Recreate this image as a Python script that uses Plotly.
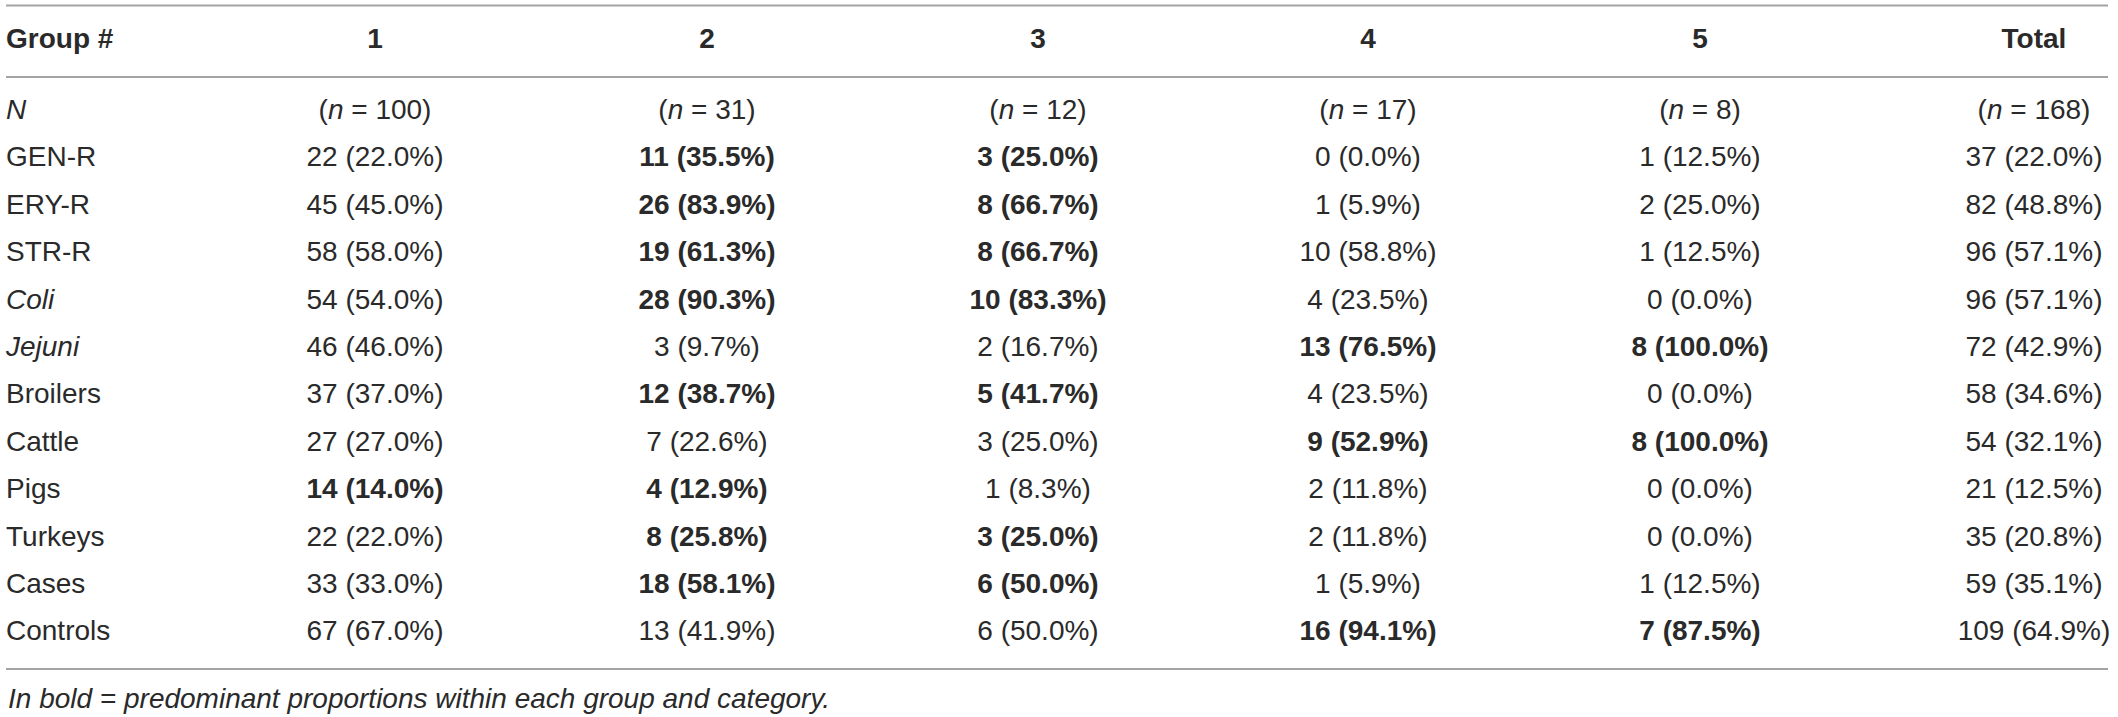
import plotly.graph_objects as go

# --- table values ---
GROUPS = ["1", "2", "3", "4", "5", "Total"]
GROUP_N = [100, 31, 12, 17, 8, 168]

ROW_LABELS = ["GEN-R", "ERY-R", "STR-R", "Coli", "Jejuni", "Broilers",
              "Cattle", "Pigs", "Turkeys", "Cases", "Controls"]
ITALIC_LABELS = ["Coli", "Jejuni"]

COUNT_1 = [22, 45, 58, 54, 46, 37, 27, 14, 22, 33, 67]
PCT_1 = [22.0, 45.0, 58.0, 54.0, 46.0, 37.0, 27.0, 14.0, 22.0, 33.0, 67.0]
COUNT_2 = [11, 26, 19, 28, 3, 12, 7, 4, 8, 18, 13]
PCT_2 = [35.5, 83.9, 61.3, 90.3, 9.7, 38.7, 22.6, 12.9, 25.8, 58.1, 41.9]
COUNT_3 = [3, 8, 8, 10, 2, 5, 3, 1, 3, 6, 6]
PCT_3 = [25.0, 66.7, 66.7, 83.3, 16.7, 41.7, 25.0, 8.3, 25.0, 50.0, 50.0]
COUNT_4 = [0, 1, 10, 4, 13, 4, 9, 2, 2, 1, 16]
PCT_4 = [0.0, 5.9, 58.8, 23.5, 76.5, 23.5, 52.9, 11.8, 11.8, 5.9, 94.1]
COUNT_5 = [1, 2, 1, 0, 8, 0, 8, 0, 0, 1, 7]
PCT_5 = [12.5, 25.0, 12.5, 0.0, 100.0, 0.0, 100.0, 0.0, 0.0, 12.5, 87.5]
COUNT_T = [37, 82, 96, 96, 72, 58, 54, 21, 35, 59, 109]
PCT_T = [22.0, 48.8, 57.1, 57.1, 42.9, 34.6, 32.1, 12.5, 20.8, 35.1, 64.9]

# column indices printed in bold, per row
BOLD_COLS = [[1, 2], [1, 2], [1, 2], [1, 2], [3, 4], [1, 2],
             [3, 4], [0, 1], [1, 2], [1, 2], [3, 4]]

FOOTNOTE = "In bold = predominant proportions within each group and category."

COUNTS = [COUNT_1, COUNT_2, COUNT_3, COUNT_4, COUNT_5, COUNT_T]
PCTS = [PCT_1, PCT_2, PCT_3, PCT_4, PCT_5, PCT_T]

# --- layout (pixel units, axes span the whole page) ---
W, H = 2118, 717
LABEL_X = 6
COL_X = [375, 707, 1038, 1368, 1700, 2034]
HEADER_Y = 41
FIRST_ROW_Y = 112
ROW_STEP = 47.4
TOP_RULE_Y = 5.5
HEAD_RULE_Y = 77
BOTTOM_RULE_Y = 669
FOOT_Y = 698

FONT = "Liberation Sans, Arial, sans-serif"
TEXT_COLOR = "#2a2a2a"
RULE_COLOR = "#a3a3a3"
SIZE = 28

row_y = [FIRST_ROW_Y + ROW_STEP * (i + 1) for i in range(len(ROW_LABELS))]
n_row_y = FIRST_ROW_Y

fig = go.Figure()

# first column: header + row labels
labels = ["<b>Group #</b>", "<i>N</i>"] + [
    f"<i>{lab}</i>" if lab in ITALIC_LABELS else lab for lab in ROW_LABELS
]
fig.add_trace(go.Scatter(
    x=[LABEL_X] * len(labels),
    y=[HEADER_Y, n_row_y] + row_y,
    mode="text",
    text=labels,
    textposition="middle right",
    textfont=dict(family=FONT, size=SIZE, color=TEXT_COLOR),
    hoverinfo="skip",
    showlegend=False,
))

# group columns
for j, grp in enumerate(GROUPS):
    cells = []
    for i in range(len(ROW_LABELS)):
        s = f"{COUNTS[j][i]} ({PCTS[j][i]:.1f}%)"
        if j in BOLD_COLS[i]:
            s = f"<b>{s}</b>"
        cells.append(s)
    texts = [f"<b>{grp}</b>", f"(<i>n</i> = {GROUP_N[j]})"] + cells
    fig.add_trace(go.Scatter(
        x=[COL_X[j]] * len(texts),
        y=[HEADER_Y, n_row_y] + row_y,
        mode="text",
        text=texts,
        textposition="middle center",
        textfont=dict(family=FONT, size=SIZE, color=TEXT_COLOR),
        hoverinfo="skip",
        showlegend=False,
    ))

# horizontal rules
shapes = []
for y in (TOP_RULE_Y, HEAD_RULE_Y, BOTTOM_RULE_Y):
    shapes.append(dict(
        type="line", xref="x", yref="y",
        x0=6, x1=W - 10, y0=y, y1=y,
        line=dict(color=RULE_COLOR, width=2),
    ))

fig.update_layout(
    width=W, height=H,
    margin=dict(l=0, r=0, t=0, b=0),
    paper_bgcolor="white",
    plot_bgcolor="white",
    shapes=shapes,
    annotations=[dict(
        x=LABEL_X, y=FOOT_Y, xref="x", yref="y",
        text=f"<i>{FOOTNOTE}</i>",
        showarrow=False, xanchor="left", yanchor="middle",
        font=dict(family=FONT, size=SIZE, color=TEXT_COLOR),
    )],
    xaxis=dict(range=[0, W], visible=False, fixedrange=True),
    yaxis=dict(range=[H, 0], visible=False, fixedrange=True),
)

# drop the default body margin so the figure sits at the page origin
fig.write_html(
    "out.html",
    config={"displayModeBar": False},
    post_script="document.body.style.margin='0';document.body.style.overflow='hidden';",
)
